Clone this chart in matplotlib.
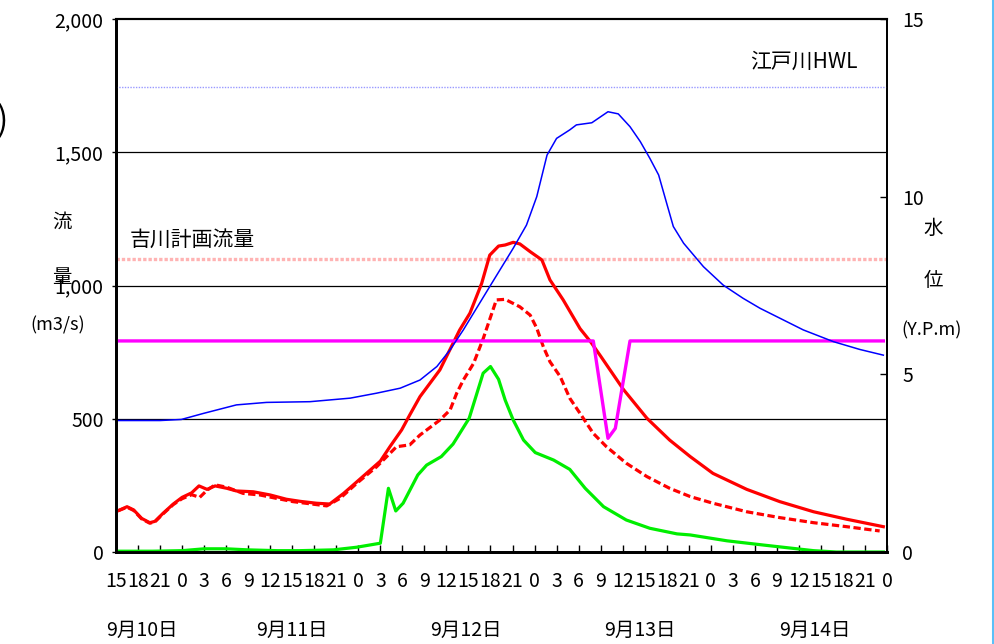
import matplotlib
matplotlib.use("Agg")
import matplotlib.pyplot as plt
from matplotlib.lines import Line2D

plt.rcParams['font.family'] = ['Liberation Sans Narrow', 'Noto Sans CJK JP', 'DejaVu Sans']

# hours counted from 9/10 15:00
hour_ticks = list(range(0, 106, 3))
hour_labels = ["15", "18", "21"] + ["0", "3", "6", "9", "12", "15", "18", "21"] * 4 + ["0"]
date_labels = ["9月10日", "9月11日", "9月12日", "9月13日", "9月14日"]

# flow (m3/s), left axis
red_h = [0.3, 1.5, 2.4, 3.5, 4.6, 5.3, 6.4, 7.8, 9.0, 10.3, 11.3, 12.4, 13.5, 15.1, 16.4,
         18.7, 21.0, 23.2, 25.1, 27.3, 29.1, 31.0, 33.2, 36.0, 37.3, 38.9, 40.0, 41.4, 44.1,
         45.9, 46.8, 48.2, 49.8, 50.9, 52.1, 53.0, 54.1, 55.0, 56.4, 58.0, 59.1, 60.9, 63.2,
         64.6, 66.0, 69.1, 72.3, 75.4, 78.2, 81.3, 85.9, 90.4, 95.0, 99.5, 104.5]
red_q = [155, 170, 158, 126, 110, 115, 145, 180, 205, 222, 248, 235, 248, 239, 229,
         226, 214, 198, 190, 183, 180, 220, 273, 341, 395, 458, 514, 583, 683,
         783, 833, 896, 1008, 1114, 1148, 1152, 1162, 1156, 1127, 1096, 1021, 946, 838,
         790, 735, 610, 502, 420, 358, 295, 235, 189, 151, 123, 95]

dash_h = [0.3, 1.5, 2.4, 3.5, 4.6, 5.3, 6.4, 7.8, 9.0, 10.3, 11.4, 12.4, 13.5, 15.1, 17.3,
          19.6, 21.9, 24.1, 26.4, 28.7, 30.5, 32.8, 35.5, 37.3, 38.2, 40.0, 41.4, 44.1, 45.5,
          46.4, 47.3, 48.7, 50.0, 51.8, 53.0, 55.0, 56.4, 57.3, 58.2, 59.1, 60.5, 61.8, 63.2,
          65.0, 66.8, 69.5, 72.3, 75.4, 78.2, 81.3, 85.9, 90.4, 95.0, 99.5, 104.0]
dash_q = [155, 168, 156, 124, 108, 113, 143, 178, 200, 215, 205, 232, 252, 243, 220,
          214, 201, 189, 181, 173, 201, 258, 320, 370, 395, 402, 439, 495, 533,
          596, 645, 708, 800, 946, 948, 920, 889, 840, 770, 714, 658, 577, 520,
          445, 395, 333, 283, 239, 208, 183, 151, 129, 110, 95, 79]

green_h = [0.3, 5, 9, 12, 15, 18, 22, 25, 29.6, 32.8, 36.0, 37.1, 38.1, 39.1, 41.1, 42.3,
           44.3, 45.9, 48.1, 50.0, 51.0, 52.1, 53.0, 54.1, 55.5, 57.1, 59.6, 61.8, 63.9,
           66.4, 69.5, 72.7, 76.4, 78.2, 83.2, 88.2, 95.0, 98.1, 104.5]
green_q = [3, 3, 5, 12, 12, 8, 5, 5, 8, 18, 33, 239, 154, 183, 289, 326,
           358, 405, 502, 671, 696, 648, 570, 495, 420, 373, 345, 310, 239,
           170, 120, 89, 68, 64, 42, 26, 5, 0, 0]

# water level (Y.P.m), right axis
blue_h = [0.3, 6.0, 8.9, 11.9, 16.4, 20.5, 26.4, 31.9, 35.5, 38.7, 41.4, 43.7, 45.5, 46.4,
          47.3, 50.9, 54.1, 55.9, 57.3, 58.7, 60.0, 61.8, 62.7, 64.8, 67.0, 68.4, 70.0,
          71.4, 72.7, 73.9, 75.0, 75.9, 77.3, 80.0, 82.7, 85.4, 87.7, 93.6, 97.7, 101.3, 104.5]
blue_lv = [3.70, 3.70, 3.73, 3.90, 4.14, 4.21, 4.23, 4.33, 4.47, 4.61, 4.84, 5.22, 5.69, 5.97,
           6.25, 7.47, 8.55, 9.20, 10.0, 11.17, 11.64, 11.88, 12.02, 12.08, 12.39, 12.33, 11.97,
           11.55, 11.08, 10.61, 9.81, 9.16, 8.69, 8.03, 7.51, 7.14, 6.86, 6.25, 5.92, 5.70, 5.54]

mag_h = [0.3, 65, 67, 68, 70, 104.5]
mag_lv = [5.94, 5.94, 3.20, 3.48, 5.94, 5.94]

plan_flow = 1100     # 吉川計画流量
hwl = 13.1           # 江戸川HWL

W, H = 994, 644
fig = plt.figure(figsize=(W / 100, H / 100), dpi=100)
ax = fig.add_axes([116 / W, 1 - 552 / H, 771 / W, 533 / H])
ax2 = ax.twinx()

ax.set_xlim(0, 105)
ax.set_ylim(0, 2000)
ax2.set_ylim(0, 15)

for v in [500, 1000, 1500]:
    ax.axhline(v, color="black", lw=0.9, zorder=1)
ax.axhline(plan_flow, color="#ffb3b3", lw=2.4, ls=(0, (1, 0.6)), zorder=1)

ax.plot(red_h, red_q, color="#ff0000", lw=2.3, zorder=3)
ax.plot(dash_h, dash_q, color="#ff0000", lw=2.3, ls=(0, (2.3, 1.1)), zorder=3)
ax.plot(green_h, green_q, color="#00ee00", lw=2.3, zorder=3)

ax2.axhline(hwl, color="#9999ff", lw=1.0, ls=(0, (1, 1)))
ax2.plot(mag_h, mag_lv, color="#ff00ff", lw=2.4)
ax2.plot(blue_h, blue_lv, color="#0000ff", lw=1.1)

ax.set_xticks(hour_ticks)
ax.set_xticklabels(hour_labels, fontsize=14)
ax.tick_params(axis="x", direction="in", length=5, width=1, pad=14)
ax.set_yticks([0, 500, 1000, 1500, 2000])
ax.set_yticklabels(["0", "500", "1,000", "1,500", "2,000"], fontsize=14)
ax.tick_params(axis="y", direction="out", length=3, width=1, pad=6)
ax2.set_yticks([0, 5, 10, 15])
ax2.tick_params(axis="y", direction="in", length=5, width=1, pad=11, labelsize=14)

for a in (ax, ax2):
    a.spines["left"].set_linewidth(2.0)
    a.spines["bottom"].set_linewidth(2.0)
    a.spines["right"].set_linewidth(1.3)
    a.spines["top"].set_linewidth(1.5)

def ftext(x, y, s, size=14, ha="center"):
    fig.text(x / W, 1 - y / H, s, fontsize=size, ha=ha, va="center")

ftext(62, 222, "流")
ftext(62, 278, "量")
ftext(58, 325, "(m3/s)", 13)
ftext(933, 228, "水")
ftext(933, 281, "位")
ftext(932, 330, "(Y.P.m)", 13)
ftext(130, 240, "吉川計画流量", 15, ha="left")
ftext(750, 62, "江戸川HWL", 15, ha="left")
ftext(2, 122, ")", 24, ha="center")

for x, s in zip([142, 292, 466, 640, 815], date_labels):
    ftext(x, 630, s, 14)

fig.add_artist(Line2D([992.5 / W, 992.5 / W], [0, 1], color="#5bc0f8", lw=2.2,
                      transform=fig.transFigure))

fig.savefig("out.png", dpi=100)
